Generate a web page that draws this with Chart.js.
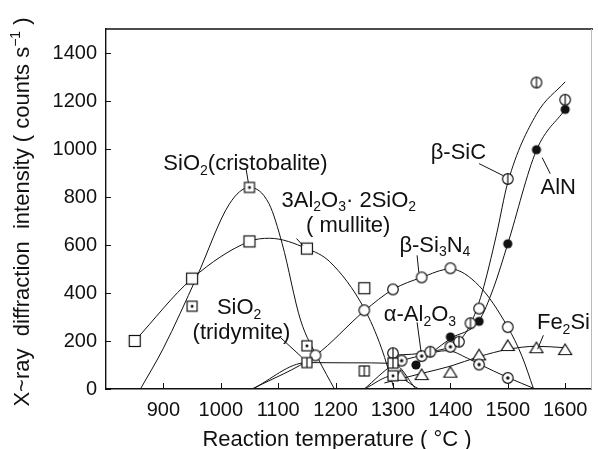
<!DOCTYPE html>
<html>
<head>
<meta charset="utf-8">
<script src="https://cdn.jsdelivr.net/npm/chart.js@4.4.1/dist/chart.umd.min.js"></script>
<style>
  html, body { margin: 0; padding: 0; background: #fff; }
  #wrap { width: 598px; height: 449px; }
</style>
</head>
<body>
<div id="wrap"><canvas id="chart" width="598" height="449"></canvas></div>
<script>
/* =========================================
   DATA
   ========================================= */
const xTicks = [900, 1000, 1100, 1200, 1300, 1400, 1500, 1600];
const yTicks = [0, 200, 400, 600, 800, 1000, 1200, 1400];

// measured points: temperature (°C) / intensity (counts s-1)
const cristobaliteT = [950, 1050, 1150, 1300];
const cristobaliteI = [345, 840, 180, 55];
const mulliteT = [850, 950, 1050, 1150, 1250];
const mulliteI = [200, 460, 615, 585, 420];
const tridymiteT = [1150, 1250, 1300];
const tridymiteI = [110, 75, 108];
const si3n4T = [1165, 1250, 1300, 1350, 1400, 1450, 1500];
const si3n4I = [140, 328, 415, 465, 503, 335, 258];
const sicT = [1300, 1365, 1415, 1435, 1500, 1550, 1600];
const sicI = [149, 155, 197, 274, 875, 1277, 1205];
const alnT = [1340, 1400, 1450, 1500, 1550, 1600];
const alnI = [100, 217, 282, 605, 997, 1165];
const al2o3T = [1315, 1350, 1400, 1450, 1500];
const al2o3I = [118, 137, 176, 102, 46];
const fe2siT = [1313, 1350, 1400, 1450, 1500, 1550, 1600];
const fe2siI = [55, 58, 68, 140, 179, 170, 162];

// hand-drawn trend curves
const cristobaliteCurveT = [860, 900, 958, 1015, 1050, 1084, 1107, 1139, 1170, 1198];
const cristobaliteCurveI = [0, 170, 466, 771, 840, 772, 605, 287, 125, 0];
const cristobalite2CurveT = [1250, 1300, 1345];
const cristobalite2CurveI = [0, 55, 0];
const mulliteCurveT = [850, 950, 1050, 1085, 1150, 1190, 1250, 1280, 1302];
const mulliteCurveI = [200, 460, 615, 628, 585, 530, 335, 170, 0];
const tridymiteCurveT = [1055, 1150, 1225, 1300, 1340];
const tridymiteCurveI = [0, 110, 109, 107, 0];
const si3n4CurveT = [1055, 1165, 1250, 1300, 1350, 1400, 1450, 1500, 1525, 1545];
const si3n4CurveI = [0, 140, 325, 415, 465, 500, 430, 258, 135, 0];
const sicCurveT = [1300, 1365, 1415, 1435, 1455, 1480, 1500, 1550, 1600];
const sicCurveI = [140, 155, 200, 270, 400, 640, 860, 1145, 1280];
const alnCurveT = [1340, 1400, 1450, 1475, 1500, 1550, 1600];
const alnCurveI = [100, 210, 285, 420, 605, 995, 1165];
const al2o3CurveT = [1250, 1300, 1350, 1395, 1430, 1450, 1500, 1548];
const al2o3CurveI = [0, 100, 140, 160, 128, 104, 48, 0];
const fe2siCurveT = [1285, 1350, 1400, 1450, 1500, 1550, 1600];
const fe2siCurveI = [25, 65, 95, 135, 165, 178, 172];


/* =========================================
   ANNOTATIONS (anchored in data units)
   ========================================= */
const notes = [
  { parts: [['SiO'], ['2', 'sub'], ['(cristobalite)']], t: 1043, i: 939, lead: [1044, 918, 1048, 860] },
  { parts: [['3Al'], ['2', 'sub'], ['O'], ['3', 'sub'], ['· 2SiO'], ['2', 'sub']], t: 1223, i: 785 },
  { parts: [['( mullite)']], t: 1222, i: 681, lead: [1132, 627, 1143, 598] },
  { parts: [['SiO'], ['2', 'sub']], t: 1032, i: 336 },
  { parts: [['(tridymite)']], t: 1036, i: 233, lead: [1105, 212, 1141, 133] },
  { parts: [['β-SiC']], t: 1414, i: 985, lead: [1450, 939, 1492, 889] },
  { parts: [['AlN']], t: 1588, i: 839, lead: [1560, 964, 1574, 897] },
  { parts: [['β-Si'], ['3', 'sub'], ['N'], ['4', 'sub']], t: 1373, i: 598, lead: [1342, 557, 1345, 486] },
  { parts: [['α-Al'], ['2', 'sub'], ['O'], ['3', 'sub']], t: 1347, i: 307, lead: [1342, 278, 1349, 154] },
  { parts: [['Fe'], ['2', 'sub'], ['Si']], t: 1597, i: 274, lead: [1562, 224, 1552, 166] }
];

const INK = '#111';
const FONT = '"Liberation Sans", Arial, sans-serif';

function pts(ts, is) {
  return ts.map((t, k) => ({ x: t, y: is[k] }));
}

/* =========================================
   MARKER GLYPHS
   ========================================= */
function makeMarker(kind) {
  const c = document.createElement('canvas');
  c.width = 16; c.height = 16;
  const g = c.getContext('2d');
  g.strokeStyle = INK; g.fillStyle = '#fff'; g.lineWidth = 1.2;
  const m = 8;
  if (kind === 'square' || kind === 'squareDot' || kind === 'squareBar') {
    const h = kind === 'square' ? 5.5 : 5;
    g.fillRect(m - h, m - h, 2 * h, 2 * h);
    g.strokeRect(m - h, m - h, 2 * h, 2 * h);
    if (kind === 'squareDot') { g.fillStyle = INK; g.beginPath(); g.arc(m, m, 1.5, 0, Math.PI * 2); g.fill(); }
    if (kind === 'squareBar') { g.beginPath(); g.moveTo(m, m - h); g.lineTo(m, m + h); g.stroke(); }
  } else if (kind === 'filled') {
    g.fillStyle = INK; g.beginPath(); g.arc(m, m, 4.6, 0, Math.PI * 2); g.fill();
  } else if (kind === 'triangle') {
    g.beginPath(); g.moveTo(m, m - 6); g.lineTo(m + 6.5, m + 4.5); g.lineTo(m - 6.5, m + 4.5); g.closePath();
    g.fill(); g.stroke();
  } else {
    const r = 5.3;
    g.beginPath(); g.arc(m, m, r, 0, Math.PI * 2); g.fill(); g.stroke();
    if (kind === 'circleBar') { g.beginPath(); g.moveTo(m, m - r); g.lineTo(m, m + r); g.stroke(); }
    if (kind === 'circleDot') { g.fillStyle = INK; g.beginPath(); g.arc(m, m, 1.7, 0, Math.PI * 2); g.fill(); }
  }
  return c;
}

function curve(ts, is) {
  return {
    data: pts(ts, is), showLine: true, pointRadius: 0, pointHoverRadius: 0,
    borderColor: INK, borderWidth: 1, cubicInterpolationMode: 'monotone', order: 2
  };
}

function marks(ts, is, kind) {
  return {
    data: pts(ts, is), showLine: false, pointStyle: makeMarker(kind),
    pointRadius: 6, pointHoverRadius: 6, order: 1
  };
}

/* =========================================
   TEXT HELPERS
   ========================================= */
function drawRich(ctx, parts, cx, cy, size) {
  const big = size + 'px ' + FONT;
  const small = Math.round(size * 0.64) + 'px ' + FONT;
  let w = 0;
  parts.forEach(p => { ctx.font = p[1] ? small : big; w += ctx.measureText(p[0]).width; });
  let xx = cx - w / 2;
  ctx.textAlign = 'left';
  ctx.textBaseline = 'middle';
  parts.forEach(p => {
    ctx.font = p[1] ? small : big;
    const dy = p[1] === 'sub' ? size * 0.32 : (p[1] === 'sup' ? -size * 0.32 : 0);
    ctx.fillText(p[0], xx, cy + dy);
    xx += ctx.measureText(p[0]).width;
  });
}

function seg(ctx, x1, y1, x2, y2) {
  ctx.beginPath(); ctx.moveTo(x1, y1); ctx.lineTo(x2, y2); ctx.stroke();
}

const decorPlugin = {
  id: 'decor',
  afterDraw(chart) {
    const { ctx, chartArea: a, scales: { x, y } } = chart;
    ctx.save();
    ctx.strokeStyle = INK;
    ctx.fillStyle = INK;

    // top frame + faint right frame
    ctx.lineWidth = 1.4;
    seg(ctx, a.left, a.top, a.right + 2, a.top);
    ctx.strokeStyle = '#bbb'; ctx.lineWidth = 1;
    seg(ctx, a.right + 0.5, a.top, a.right + 0.5, a.bottom);
    ctx.strokeStyle = INK;

    // inward tick marks
    xTicks.forEach(v => {
      const px = Math.round(x.getPixelForValue(v)) + 0.5;
      seg(ctx, px, a.bottom, px, a.bottom - 6);
    });
    yTicks.forEach(v => {
      const py = Math.round(y.getPixelForValue(v)) + 0.5;
      seg(ctx, a.left, py, a.left + 5, py);
    });

    // labels with leader lines
    notes.forEach(n => {
      drawRich(ctx, n.parts, x.getPixelForValue(n.t), y.getPixelForValue(n.i), 22);
      if (n.lead) {
        const l = n.lead;
        seg(ctx, x.getPixelForValue(l[0]), y.getPixelForValue(l[1]), x.getPixelForValue(l[2]), y.getPixelForValue(l[3]));
      }
    });

    // axis titles
    drawRich(ctx, [['Reaction temperature ( °C )']], 337, 440, 22);
    ctx.save();
    ctx.translate(23, 212);
    ctx.rotate(-Math.PI / 2);
    drawRich(ctx, [['X~ray  diffraction  intensity ( counts s'], ['−1', 'sup'], [' )']], 0, 0, 22);
    ctx.restore();

    ctx.restore();
  }
};

/* =========================================
   CHART
   ========================================= */
function initChart() {
  const ctx = document.getElementById('chart').getContext('2d');
  new Chart(ctx, {
    type: 'scatter',
    data: {
      datasets: [
        marks(cristobaliteT, cristobaliteI, 'squareDot'),
        marks(mulliteT, mulliteI, 'square'),
        marks(tridymiteT, tridymiteI, 'squareBar'),
        marks(si3n4T, si3n4I, 'circle'),
        marks(sicT, sicI, 'circleBar'),
        marks(alnT, alnI, 'filled'),
        marks(al2o3T, al2o3I, 'circleDot'),
        marks(fe2siT, fe2siI, 'triangle'),
        curve(cristobaliteCurveT, cristobaliteCurveI),
        curve(cristobalite2CurveT, cristobalite2CurveI),
        curve(mulliteCurveT, mulliteCurveI),
        curve(tridymiteCurveT, tridymiteCurveI),
        curve(si3n4CurveT, si3n4CurveI),
        curve(sicCurveT, sicCurveI),
        curve(alnCurveT, alnCurveI),
        curve(al2o3CurveT, al2o3CurveI),
        curve(fe2siCurveT, fe2siCurveI)
      ]
    },
    options: {
      responsive: false,
      animation: false,
      events: [],
      layout: { padding: { top: 29, right: 1, left: 0, bottom: 0 } },
      plugins: { legend: { display: false }, tooltip: { enabled: false } },
      scales: {
        x: {
          type: 'linear', min: 800, max: 1645,
          afterBuildTicks: s => { s.ticks = xTicks.map(v => ({ value: v })); },
          afterFit: s => { s.height = 60; },
          grid: { display: false, drawTicks: false },
          border: { display: true, color: INK, width: 1.4 },
          ticks: { color: INK, padding: 9, maxRotation: 0, callback: v => String(v), font: { family: FONT, size: 20 } }
        },
        y: {
          type: 'linear', min: 0, max: 1500,
          afterBuildTicks: s => { s.ticks = yTicks.map(v => ({ value: v })); },
          afterFit: s => { s.width = 106; },
          grid: { display: false, drawTicks: false },
          border: { display: true, color: INK, width: 1.4 },
          ticks: { color: INK, padding: 9, callback: v => String(v), font: { family: FONT, size: 20 } }
        }
      }
    },
    plugins: [decorPlugin]
  });
}

window.onload = initChart;
</script>
</body>
</html>
